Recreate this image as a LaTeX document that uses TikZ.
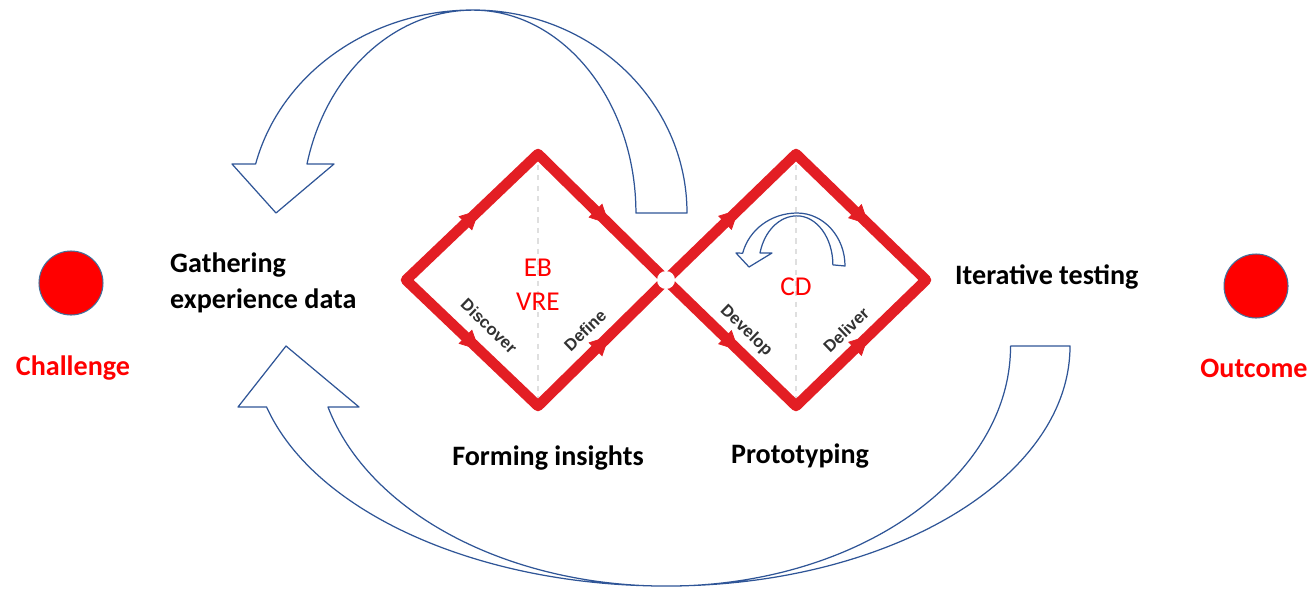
\documentclass[tikz,border=0pt]{standalone}
\usepackage{fontspec}
\setmainfont{Carlito}
\newfontfamily\phasefont{Liberation Sans}
\usetikzlibrary{arrows.meta,decorations.markings}

\definecolor{diamred}{RGB}{227,30,36}
\definecolor{arrblue}{RGB}{47,85,151}
\definecolor{dotedge}{RGB}{65,113,156}
\definecolor{phasegray}{RGB}{50,50,50}

\begin{document}
\begin{tikzpicture}[
    x=0.02cm, y=0.02cm,
    diamond/.style={
        draw=diamred,
        line width=6pt,
        line join=round
    },
    flow/.style={
        color=diamred,
        postaction={decorate},
        decoration={markings,
            mark=at position 0.28 with {\arrow{Triangle[length=11pt,width=11pt]}},
            mark=at position 0.78 with {\arrow{Triangle[length=11pt,width=11pt]}}}
    },
    midline/.style={
        draw=gray!25,
        dashed,
        line width=0.6pt
    },
    blockarrow/.style={
        draw=arrblue,
        fill=white,
        line width=0.7pt,
        line join=round
    },
    dot/.style={
        circle,
        draw=dotedge,
        fill=red,
        line width=0.6pt,
        minimum size=1.28cm
    },
    stage/.style={
        font=\fontsize{16}{20.4}\selectfont\bfseries,
        align=left
    },
    endlabel/.style={
        stage,
        text=red
    },
    code/.style={
        font=\fontsize{15.5}{19.3}\selectfont,
        text=red,
        align=center
    },
    phase/.style={
        font=\phasefont\fontsize{9.5}{11}\selectfont\bfseries,
        text=phasegray,
        inner sep=0pt
    }
]
    \useasboundingbox (0,0) rectangle (1310,-589);

    % --- Feedback arrows ---
    \draw[blockarrow] (687,-213)
        arc[start angle=0,end angle=90,x radius=214,y radius=203]
        arc[start angle=90,end angle=166,x radius=224,y radius=203]
        -- (232,-164) -- (276,-213) -- (334,-164) -- (307,-164)
        arc[start angle=166,end angle=90,x radius=171,y radius=203]
        arc[start angle=90,end angle=0,x radius=163,y radius=203]
        -- cycle;

    \draw[blockarrow] (1070,-346)
        arc[start angle=0,end angle=-90,x radius=404,y radius=240]
        arc[start angle=-90,end angle=-165.3,x radius=413,y radius=240]
        -- (238,-407) -- (286,-346) -- (359,-407) -- (328,-407)
        arc[start angle=-165.3,end angle=-90,x radius=350,y radius=240]
        arc[start angle=-90,end angle=0,x radius=344,y radius=240]
        -- cycle;

    % --- Diamond corners ---
    \coordinate (d1l) at (406,-280);
    \coordinate (d1t) at (538,-154);
    \coordinate (d1b) at (538,-406);
    \coordinate (mid) at (666,-280);
    \coordinate (d2t) at (796,-154);
    \coordinate (d2b) at (796,-406);
    \coordinate (d2r) at (926,-280);

    \draw[midline] (d1t) -- (d1b);
    \draw[midline] (d2t) -- (d2b);

    % --- Double diamond ---
    \draw[diamond] (d1l) -- (d1t) -- (mid) -- (d1b) -- cycle;
    \draw[diamond] (mid) -- (d2t) -- (d2r) -- (d2b) -- cycle;
    \path[flow] (d1l) -- (d1t) -- (mid);
    \path[flow] (d1l) -- (d1b) -- (mid);
    \path[flow] (mid) -- (d2t) -- (d2r);
    \path[flow] (mid) -- (d2b) -- (d2r);
    \fill[white] (mid) circle[radius=9];

    % small loop inside the second diamond
    \draw[blockarrow] (845,-266)
        arc[start angle=0,end angle=90,x radius=48,y radius=53]
        arc[start angle=90,end angle=166,x radius=56,y radius=53]
        -- (736,-253) -- (749,-267) -- (772,-253) -- (760,-253)
        arc[start angle=166,end angle=90,x radius=38,y radius=49]
        arc[start angle=90,end angle=0,x radius=36,y radius=49]
        -- cycle;

    % --- Texts in the diamonds ---
    \node[code] (ebvre) at (538,-285) {EB\\VRE};
    \node[code] (cd) at (796,-287) {CD};
    \node[phase, rotate=-44] (discover) at (489,-326) {Discover};
    \node[phase, rotate=44] (define) at (585,-330) {Define};
    \node[phase, rotate=-44] (develop) at (746,-331) {Develop};
    \node[phase, rotate=44] (deliver) at (846,-330) {Deliver};

    % --- Stages ---
    \node[stage, anchor=west] (gather) at (164,-283) {Gathering\\experience data};
    \node[stage, anchor=west] (iter) at (949,-277) {Iterative testing};
    \node[stage] (forming) at (548,-458) {Forming insights};
    \node[stage] (proto) at (800,-456) {Prototyping};

    % --- Start and end ---
    \node[dot] (chaldot) at (71,-283) {};
    \node[dot] (outcdot) at (1256,-286) {};
    \node[endlabel] (chal) at (73,-368) {Challenge};
    \node[endlabel] (outc) at (1254,-368) {Outcome};
\end{tikzpicture}
\end{document}
